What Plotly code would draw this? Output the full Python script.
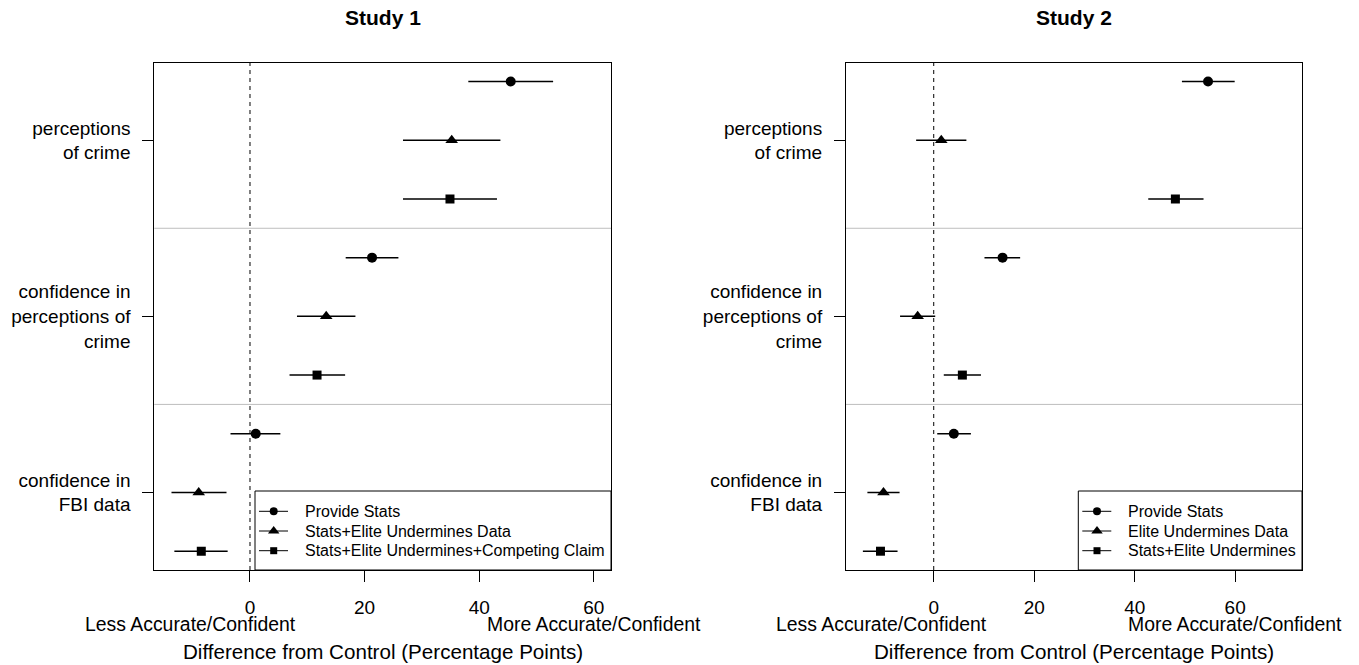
import plotly.graph_objects as go

# Outcomes (top to bottom) and treatment arms
outcomes = ["perceptions<br>of crime", "confidence in<br>perceptions of<br>crime", "confidence in<br>FBI data"]
study_titles = ["Study 1", "Study 2"]

s1_arms = ["Provide Stats", "Stats+Elite Undermines Data", "Stats+Elite Undermines+Competing Claim"]
s1_est = [[45.5, 21.3, 1.0], [35.2, 13.3, -8.95], [34.9, 11.7, -8.5]]
s1_lo = [[38.1, 16.7, -3.4], [26.7, 8.2, -13.7], [26.7, 6.9, -13.2]]
s1_hi = [[52.9, 25.9, 5.3], [43.7, 18.4, -4.1], [43.1, 16.6, -3.9]]

s2_arms = ["Provide Stats", "Elite Undermines Data", "Stats+Elite Undermines"]
s2_est = [[54.6, 13.7, 4.0], [1.5, -3.2, -10.0], [48.1, 5.7, -10.6]]
s2_lo = [[49.4, 10.1, 0.7], [-3.5, -6.7, -13.2], [42.7, 2.0, -14.1]]
s2_hi = [[59.9, 17.2, 7.4], [6.5, 0.3, -6.8], [53.7, 9.4, -7.2]]

x_ticks = [0, 20, 40, 60]
low_label = "Less Accurate/Confident"
high_label = "More Accurate/Confident"
x_title = "Difference from Control (Percentage Points)"

W, H = 1359, 665
FONT = "Liberation Sans, Arial, Helvetica, sans-serif"
symbols = ["circle", "triangle-up", "square"]
msizes = [10, 11, 9]
leg_sizes = [8, 10, 7]

# panel boxes in pixels (left, right); shared top / bottom
PLOT_TOP, PLOT_BOTTOM = 62.7, 570.0
panels = [
    dict(arms=s1_arms, est=s1_est, lo=s1_lo, hi=s1_hi, xr=[-16.7, 63.0],
         px=(154.3, 611.0), leg_left=255.0, xa="x", ya="y"),
    dict(arms=s2_arms, est=s2_est, lo=s2_lo, hi=s2_hi, xr=[-17.46, 73.3],
         px=(846.0, 1302.0), leg_left=1078.3, xa="x2", ya="y2"),
]
ydom = [1 - PLOT_BOTTOM / H, 1 - PLOT_TOP / H]

# legend box geometry (pixels)
LEG_TOP = 491.0
LEG_ROW0, LEG_ROW_STEP = 511.3, 19.7

fig = go.Figure()
shapes, annotations = [], []
leg_mx, leg_my, leg_sym, leg_sz = [], [], [], []

for p_i, p in enumerate(panels):
    for a_i, arm in enumerate(p["arms"]):
        est = p["est"][a_i]
        ys = [9 - 3 * o - a_i for o in range(len(outcomes))]
        fig.add_trace(go.Scatter(
            x=est, y=ys, mode="markers", xaxis=p["xa"], yaxis=p["ya"],
            marker=dict(symbol=symbols[a_i], size=msizes[a_i], color="black"),
            error_x=dict(type="data", symmetric=False,
                         array=[h - e for h, e in zip(p["hi"][a_i], est)],
                         arrayminus=[e - l for e, l in zip(est, p["lo"][a_i])],
                         color="black", thickness=1.5, width=0),
            showlegend=False, hoverinfo="skip"))

        # legend key: line, marker and label
        ry = LEG_ROW0 + a_i * LEG_ROW_STEP
        lx = p["leg_left"]
        shapes.append(dict(type="line", xref="paper", yref="paper",
                           x0=(lx + 4) / W, x1=(lx + 33) / W, y0=1 - ry / H, y1=1 - ry / H,
                           line=dict(color="black", width=1), layer="below"))
        leg_mx.append(lx + 18.7)
        leg_my.append(ry)
        leg_sym.append(symbols[a_i])
        leg_sz.append(leg_sizes[a_i])
        annotations.append(dict(text=arm, xref="paper", yref="paper", x=(lx + 47.5) / W,
                                y=1 - ry / H, xanchor="left", yanchor="middle", showarrow=False,
                                font=dict(size=16, color="black", family=FONT)))

    # legend frame
    shapes.append(dict(type="rect", xref="paper", yref="paper",
                       x0=p["leg_left"] / W, x1=p["px"][1] / W, y0=1 - PLOT_BOTTOM / H, y1=1 - LEG_TOP / H,
                       line=dict(color="black", width=1), layer="above"))

    xref = p["xa"]
    yref = p["ya"]
    # zero reference line
    shapes.append(dict(type="line", xref=xref, yref=yref + " domain", x0=0, x1=0, y0=0, y1=1,
                       line=dict(color="black", width=1, dash="4px,4px"), layer="below"))
    # separators between outcome groups
    for yy in [3.5, 6.5]:
        shapes.append(dict(type="line", xref=xref + " domain", yref=yref, x0=0, x1=1, y0=yy, y1=yy,
                           line=dict(color="#bebebe", width=1), layer="below"))
    cx = (p["px"][0] + p["px"][1]) / 2 / W
    annotations.append(dict(text="<b>" + study_titles[p_i] + "</b>", xref="paper", yref="paper",
                            x=cx, y=1 - 17 / H, xanchor="center", yanchor="middle",
                            showarrow=False, font=dict(size=21, color="black", family=FONT)))
    annotations.append(dict(text=x_title, xref="paper", yref="paper",
                            x=cx, y=1 - 651.5 / H, xanchor="center", yanchor="middle",
                            showarrow=False, font=dict(size=20.6, color="black", family=FONT)))
    annotations.append(dict(text=low_label, xref=xref, yref="paper", x=-10.3, y=1 - 623.5 / H,
                            xanchor="center", yanchor="middle", showarrow=False,
                            font=dict(size=19.4, color="black", family=FONT)))
    annotations.append(dict(text=high_label, xref=xref, yref="paper", x=60, y=1 - 623.5 / H,
                            xanchor="center", yanchor="middle", showarrow=False,
                            font=dict(size=19.4, color="black", family=FONT)))

# legend markers on a full-page pixel overlay
fig.add_trace(go.Scatter(x=leg_mx, y=leg_my, mode="markers", xaxis="x3", yaxis="y3",
                         opacity=1,
                         marker=dict(symbol=leg_sym, size=leg_sz, color="#000000", opacity=1,
                                     line=dict(width=0)),
                         showlegend=False, hoverinfo="skip"))

axis_common = dict(showline=True, mirror=True, linecolor="black", linewidth=1,
                   ticks="outside", ticklen=11, tickcolor="black", tickwidth=1,
                   showgrid=False, zeroline=False, tickfont=dict(size=19, color="black", family=FONT))

layout = dict(
    width=W, height=H, margin=dict(l=0, r=0, t=0, b=0),
    paper_bgcolor="white", plot_bgcolor="rgba(0,0,0,0)",
    font=dict(family=FONT, color="black"),
    shapes=shapes, annotations=annotations, showlegend=False,
    xaxis3=dict(domain=[0, 1], range=[0, W], visible=False, anchor="y3", fixedrange=True),
    yaxis3=dict(domain=[0, 1], range=[H, 0], visible=False, anchor="x3", fixedrange=True),
)
for p in panels:
    xk = "xaxis" if p["xa"] == "x" else "xaxis2"
    yk = "yaxis" if p["ya"] == "y" else "yaxis2"
    layout[xk] = dict(axis_common, domain=[p["px"][0] / W, p["px"][1] / W], range=p["xr"],
                      tickvals=x_ticks, ticktext=[str(t) for t in x_ticks], anchor=p["ya"],
                      ticklabelstandoff=9)
    layout[yk] = dict(axis_common, domain=ydom, range=[0.68, 9.32], tickvals=[8, 5, 2],
                      ticktext=outcomes, anchor=p["xa"], ticklabelstandoff=8)

fig.update_layout(**layout)
fig.write_html("out.html")
